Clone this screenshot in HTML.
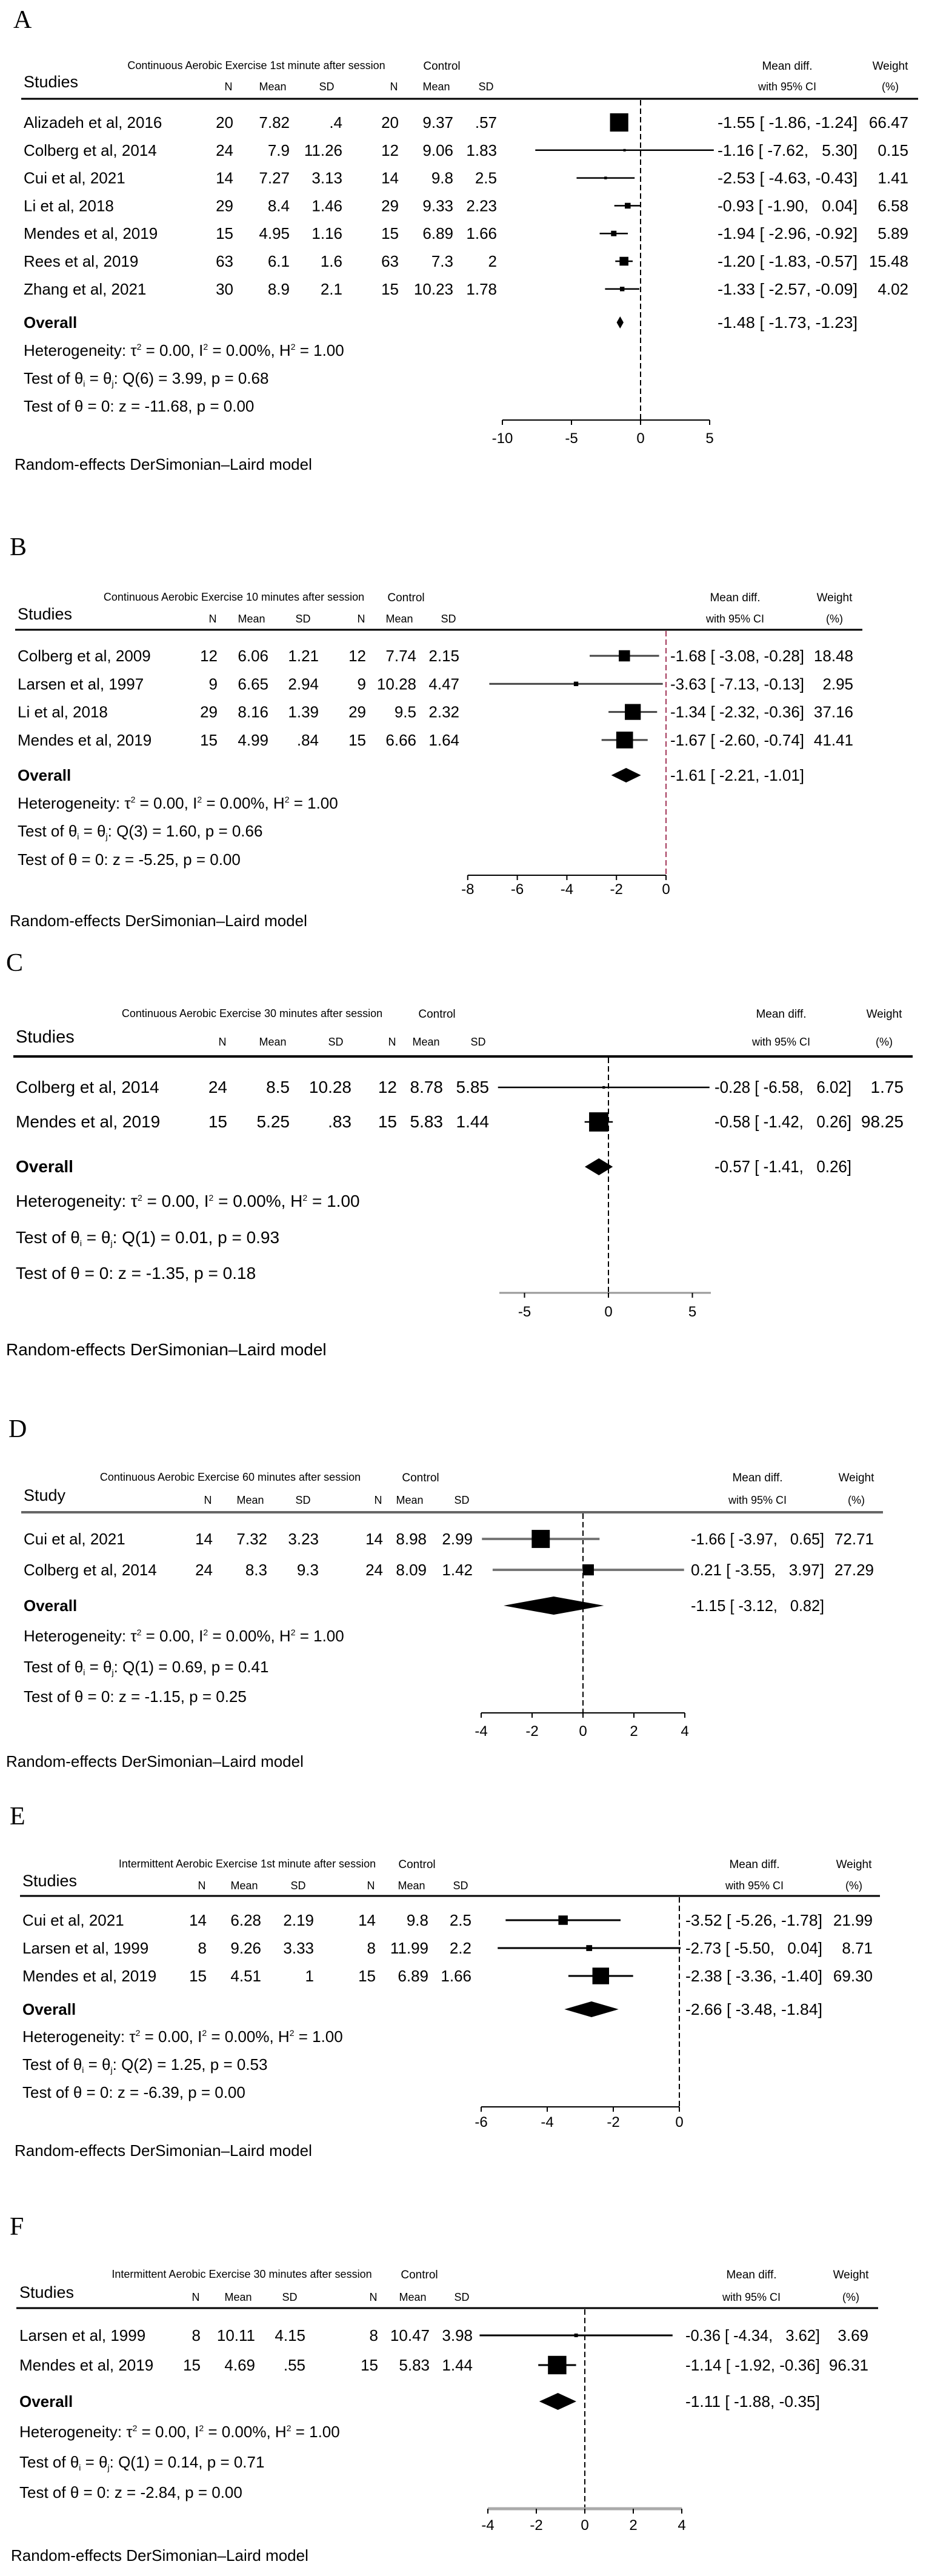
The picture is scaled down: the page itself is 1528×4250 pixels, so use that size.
<!DOCTYPE html>
<html><head><meta charset="utf-8"><title>Forest plots</title>
<style>
html,body{margin:0;padding:0;background:#fff;}
svg{display:block;font-family:"Liberation Sans",Arial,sans-serif;}
</style></head>
<body>
<svg id="fig" xmlns="http://www.w3.org/2000/svg" width="1528" height="4250" viewBox="0 0 1528 4250"></svg>
<script>
// ---------- Panel A data ----------
const studiesA = ["Alizadeh et al, 2016","Colberg et al, 2014","Cui et al, 2021","Li et al, 2018","Mendes et al, 2019","Rees et al, 2019","Zhang et al, 2021"];
const nTA = ["20","24","14","29","15","63","30"];
const meanTA = ["7.82","7.9","7.27","8.4","4.95","6.1","8.9"];
const sdTA = [".4","11.26","3.13","1.46","1.16","1.6","2.1"];
const nCA = ["20","12","14","29","15","63","15"];
const meanCA = ["9.37","9.06","9.8","9.33","6.89","7.3","10.23"];
const sdCA = [".57","1.83","2.5","2.23","1.66","2","1.78"];
const mdA = [-1.55,-1.16,-2.53,-0.93,-1.94,-1.20,-1.33];
const loA = [-1.86,-7.62,-4.63,-1.90,-2.96,-1.83,-2.57];
const hiA = [-1.24,5.30,-0.43,0.04,-0.92,-0.57,-0.09];
const wtA = [66.47,0.15,1.41,6.58,5.89,15.48,4.02];
const overallA = [-1.48,-1.73,-1.23];
const ticksA = [-10,-5,0,5];
const statsA = ["0.00","0.00%","1.00","6","3.99","0.68","-11.68","0.00"];

// ---------- Panel B data ----------
const studiesB = ["Colberg et al, 2009","Larsen et al, 1997","Li et al, 2018","Mendes et al, 2019"];
const nTB = ["12","9","29","15"];
const meanTB = ["6.06","6.65","8.16","4.99"];
const sdTB = ["1.21","2.94","1.39",".84"];
const nCB = ["12","9","29","15"];
const meanCB = ["7.74","10.28","9.5","6.66"];
const sdCB = ["2.15","4.47","2.32","1.64"];
const mdB = [-1.68,-3.63,-1.34,-1.67];
const loB = [-3.08,-7.13,-2.32,-2.60];
const hiB = [-0.28,-0.13,-0.36,-0.74];
const wtB = [18.48,2.95,37.16,41.41];
const overallB = [-1.61,-2.21,-1.01];
const ticksB = [-8,-6,-4,-2,0];
const statsB = ["0.00","0.00%","1.00","3","1.60","0.66","-5.25","0.00"];

// ---------- Panel C data ----------
const studiesC = ["Colberg et al, 2014","Mendes et al, 2019"];
const nTC = ["24","15"];
const meanTC = ["8.5","5.25"];
const sdTC = ["10.28",".83"];
const nCC = ["12","15"];
const meanCC = ["8.78","5.83"];
const sdCC = ["5.85","1.44"];
const mdC = [-0.28,-0.58];
const loC = [-6.58,-1.42];
const hiC = [6.02,0.26];
const wtC = [1.75,98.25];
const overallC = [-0.57,-1.41,0.26];
const ticksC = [-5,0,5];
const statsC = ["0.00","0.00%","1.00","1","0.01","0.93","-1.35","0.18"];

// ---------- Panel D data ----------
const studiesD = ["Cui et al, 2021","Colberg et al, 2014"];
const nTD = ["14","24"];
const meanTD = ["7.32","8.3"];
const sdTD = ["3.23","9.3"];
const nCD = ["14","24"];
const meanCD = ["8.98","8.09"];
const sdCD = ["2.99","1.42"];
const mdD = [-1.66,0.21];
const loD = [-3.97,-3.55];
const hiD = [0.65,3.97];
const wtD = [72.71,27.29];
const overallD = [-1.15,-3.12,0.82];
const ticksD = [-4,-2,0,2,4];
const statsD = ["0.00","0.00%","1.00","1","0.69","0.41","-1.15","0.25"];

// ---------- Panel E data ----------
const studiesE = ["Cui et al, 2021","Larsen et al, 1999","Mendes et al, 2019"];
const nTE = ["14","8","15"];
const meanTE = ["6.28","9.26","4.51"];
const sdTE = ["2.19","3.33","1"];
const nCE = ["14","8","15"];
const meanCE = ["9.8","11.99","6.89"];
const sdCE = ["2.5","2.2","1.66"];
const mdE = [-3.52,-2.73,-2.38];
const loE = [-5.26,-5.50,-3.36];
const hiE = [-1.78,0.04,-1.40];
const wtE = [21.99,8.71,69.30];
const overallE = [-2.66,-3.48,-1.84];
const ticksE = [-6,-4,-2,0];
const statsE = ["0.00","0.00%","1.00","2","1.25","0.53","-6.39","0.00"];

// ---------- Panel F data ----------
const studiesF = ["Larsen et al, 1999","Mendes et al, 2019"];
const nTF = ["8","15"];
const meanTF = ["10.11","4.69"];
const sdTF = ["4.15",".55"];
const nCF = ["8","15"];
const meanCF = ["10.47","5.83"];
const sdCF = ["3.98","1.44"];
const mdF = [-0.36,-1.14];
const loF = [-4.34,-1.92];
const hiF = [3.62,-0.36];
const wtF = [3.69,96.31];
const overallF = [-1.11,-1.88,-0.35];
const ticksF = [-4,-2,0,2,4];
const statsF = ["0.00","0.00%","1.00","1","0.14","0.71","-2.84","0.00"];

const NS = "http://www.w3.org/2000/svg";
const svg = document.getElementById("fig");

function mk(tag, attrs, parent) {
  const el = document.createElementNS(NS, tag);
  for (const k in attrs) el.setAttribute(k, attrs[k]);
  (parent || svg).appendChild(el);
  return el;
}
function txt(parent, x, y, s, size, anchor, name, extra) {
  const t = mk("text", Object.assign({x: x, y: y, "font-size": size, "text-anchor": anchor || "start", fill: "#000"}, extra || {}), parent);
  t.textContent = s;
  
  
  return t;
}
function fmt(v) { return (v >= 0 ? "  " : "") + v.toFixed(2); }
function ciStr(e, l, h) { return e.toFixed(2) + " [ " + fmt(l).replace(/^ /, "") + ", " + fmt(h) + "]"; }

function drawPanel(L, D) {
  const g = mk("g", {});
  
  
  const fs = L.fs;
  const xs = v => L.zero + v * L.ppu;
  const ciOpts = {"style": "white-space:pre", "textLength": L.ciLen, "lengthAdjust": "spacingAndGlyphs"};
  txt(g, L.letterX, L.letterY, L.letter, 42, "start", "panel-label", {"font-family": "Liberation Serif, serif"});
  txt(g, L.subX, L.h1 + 6, L.sub, 18, "middle", "treatment-group-header");
  txt(g, L.ctrlX, L.h1 + 7, "Control", 19, "middle", "control-group-header");
  txt(g, L.mdX, L.h1 + 7, "Mean diff.", 19, "middle", "mean-diff-header");
  txt(g, L.mdX, L.h2 + 7, "with 95% CI", 18, "middle", "ci-header");
  txt(g, L.wX, L.h1 + 7, "Weight", 19, "middle", "weight-header");
  txt(g, L.wX, L.h2 + 7, "(%)", 18, "middle", "weight-unit-header");
  txt(g, L.x0, L.h2 + 2, L.studyHdr, fs + 1, "start", "studies-header");
  const hdr = ["N","Mean","SD","N","Mean","SD"];
  const off = [8, 28, 26, 8, 28, 18];
  hdr.forEach((h, i) => txt(g, L.cols[i] - off[i], L.h2 + 7, h, 18, "middle", "column-header-" + h.toLowerCase()));
  const rule = mk("line", {x1: L.ruleX1, x2: L.ruleX2, y1: L.rule, y2: L.rule, stroke: L.ruleColor, "stroke-width": L.ruleW}, g);
  
  
  const zl = mk("line", {x1: xs(0), x2: xs(0), y1: L.rule + 2, y2: L.axisY, stroke: L.zeroColor, "stroke-width": 2, "stroke-dasharray": "9,5"}, g);
  
  
  const cols = [D.nT, D.meanT, D.sdT, D.nC, D.meanC, D.sdC];
  D.studies.forEach((s, i) => {
    const y = L.row0 + i * L.step;
    txt(g, L.x0, y + 9, s, fs, "start", "study-name");
    cols.forEach((c, j) => txt(g, L.cols[j], y + 9, c[i], fs, "end", "table-value"));
    const ci = mk("line", {x1: xs(D.lo[i]), x2: xs(D.hi[i]), y1: y, y2: y, stroke: L.ciColor, "stroke-width": L.ciW}, g);
    
    
    const side = Math.max(4, L.k * Math.sqrt(D.wt[i]));
    const sq = mk("rect", {x: xs(D.md[i]) - side / 2, y: y - side / 2, width: side, height: side, fill: "#000"}, g);
    
    
    txt(g, L.ciX, y + 9, ciStr(D.md[i], D.lo[i], D.hi[i]), fs, "start", "effect-ci-text", ciOpts);
    txt(g, L.wRight, y + 9, D.wt[i].toFixed(2), fs, "end", "weight-value");
  });
  const oy = L.overall;
  txt(g, L.x0, oy + 9, "Overall", fs, "start", "overall-label", {"font-weight": "bold"});
  const dh = L.dh / 2;
  const dia = mk("polygon", {points: [xs(D.ov[1]) + "," + oy, xs(D.ov[0]) + "," + (oy - dh), xs(D.ov[2]) + "," + oy, xs(D.ov[0]) + "," + (oy + dh)].join(" "), fill: "#000"}, g);
  
  
  txt(g, L.ciX, oy + 9, ciStr(D.ov[0], D.ov[1], D.ov[2]), fs, "start", "overall-ci-text", ciOpts);
  const st = D.stats;
  const het = txt(g, L.x0, L.het + 9, "", fs, "start", "heterogeneity-stats");
  het.innerHTML = 'Heterogeneity: τ<tspan dy="-10" font-size="14">2</tspan><tspan dy="10"> = ' + st[0] + ', I</tspan><tspan dy="-10" font-size="14">2</tspan><tspan dy="10"> = ' + st[1] + ', H</tspan><tspan dy="-10" font-size="14">2</tspan><tspan dy="10"> = ' + st[2] + '</tspan>';
  const t1 = txt(g, L.x0, L.t1 + 9, "", fs, "start", "homogeneity-test");
  t1.innerHTML = 'Test of θ<tspan dy="5" font-size="14">i</tspan><tspan dy="-5"> = θ</tspan><tspan dy="5" font-size="14">j</tspan><tspan dy="-5">: Q(' + st[3] + ') = ' + st[4] + ', p = ' + st[5] + '</tspan>';
  txt(g, L.x0, L.t2 + 9, "Test of θ = 0: z = " + st[6] + ", p = " + st[7], fs, "start", "overall-effect-test");
  const ax = mk("line", {x1: xs(L.axMin), x2: xs(L.axMax), y1: L.axisY, y2: L.axisY, stroke: L.axisColor, "stroke-width": L.axisW}, g);
  
  
  D.ticks.forEach(t => {
    const tk = mk("line", {x1: xs(t), x2: xs(t), y1: L.axisY, y2: L.axisY + 8, stroke: "#000", "stroke-width": 2}, g);
    
    
    txt(g, xs(t), L.tickY + 9, String(t), 24, "middle", "x-tick-label");
  });
  txt(g, L.reX, L.reY + 9, "Random-effects DerSimonian–Laird model", fs, "start", "model-note");
}

const base = {fs: 26, ruleColor: "#000", ruleW: 3, zeroColor: "#000", ciColor: "#000", ciW: 2.5, axisColor: "#000", axisW: 2, dh: 24};

drawPanel(Object.assign({}, base, {letter: "A", letterX: 22, letterY: 46, sub: "Continuous Aerobic Exercise 1st minute after session", subX: 423, ctrlX: 729, mdX: 1299, wX: 1469, studyHdr: "Studies",
  x0: 39, cols: [385,478,565,658,748,820], h1: 108, h2: 142, rule: 163, ruleX1: 35, ruleX2: 1515,
  row0: 202, step: 45.8, overall: 532, het: 578, t1: 624, t2: 670, axisY: 693, tickY: 722, reX: 24, reY: 766,
  zero: 1057, ppu: 22.8, axMin: -10, axMax: 5, ciX: 1184, ciLen: 231, wRight: 1499, k: 3.7, dh: 20}),
  {studies: studiesA, nT: nTA, meanT: meanTA, sdT: sdTA, nC: nCA, meanC: meanCA, sdC: sdCA, md: mdA, lo: loA, hi: hiA, wt: wtA, ov: overallA, ticks: ticksA, stats: statsA});

drawPanel(Object.assign({}, base, {letter: "B", letterX: 16, letterY: 916, sub: "Continuous Aerobic Exercise 10 minutes after session", subX: 386, ctrlX: 670, mdX: 1213, wX: 1377, studyHdr: "Studies",
  x0: 29, cols: [359,443,526,604,687,758], h1: 985, h2: 1020, rule: 1039, ruleX1: 25, ruleX2: 1423,
  row0: 1082, step: 46.3, overall: 1279, het: 1325, t1: 1371, t2: 1418, axisY: 1444, tickY: 1466, reX: 16, reY: 1519,
  zero: 1099, ppu: 40.9, axMin: -8, axMax: 0, ciX: 1106, ciLen: 221, wRight: 1408, k: 4.3, zeroColor: "#a3375a", ciColor: "#444", ciW: 3}),
  {studies: studiesB, nT: nTB, meanT: meanTB, sdT: sdTB, nC: nCB, meanC: meanCB, sdC: sdCB, md: mdB, lo: loB, hi: hiB, wt: wtB, ov: overallB, ticks: ticksB, stats: statsB});

drawPanel(Object.assign({}, base, {letter: "C", letterX: 10, letterY: 1602, sub: "Continuous Aerobic Exercise 30 minutes after session", subX: 416, ctrlX: 721, mdX: 1289, wX: 1459, studyHdr: "Studies",
  x0: 26, cols: [375,478,580,655,731,807], h1: 1672, h2: 1718, rule: 1743, ruleX1: 22, ruleX2: 1506, ruleW: 4,
  row0: 1794, step: 57, overall: 1925, het: 1982, t1: 2042, t2: 2101, axisY: 2133, tickY: 2163, reX: 10, reY: 2227,
  zero: 1004, ppu: 27.7, axMin: -6.5, axMax: 6.1, ciX: 1179, ciLen: 226, wRight: 1491, k: 3.2, fs: 28, dh: 28, axisColor: "#999", axisW: 3}),
  {studies: studiesC, nT: nTC, meanT: meanTC, sdT: sdTC, nC: nCC, meanC: meanCC, sdC: sdCC, md: mdC, lo: loC, hi: hiC, wt: wtC, ov: overallC, ticks: ticksC, stats: statsC});

drawPanel(Object.assign({}, base, {letter: "D", letterX: 14, letterY: 2371, sub: "Continuous Aerobic Exercise 60 minutes after session", subX: 380, ctrlX: 694, mdX: 1250, wX: 1413, studyHdr: "Study",
  x0: 39, cols: [351,441,526,632,704,780], h1: 2437, h2: 2474, rule: 2495, ruleX1: 35, ruleX2: 1457, ruleColor: "#666", ruleW: 4,
  row0: 2539, step: 51, overall: 2649, het: 2699, t1: 2750, t2: 2799, axisY: 2826, tickY: 2855, reX: 10, reY: 2906,
  zero: 962, ppu: 42, axMin: -4, axMax: 4, ciX: 1140, ciLen: 220, wRight: 1442, k: 3.5, ciColor: "#777", ciW: 4, dh: 30}),
  {studies: studiesD, nT: nTD, meanT: meanTD, sdT: sdTD, nC: nCD, meanC: meanCD, sdC: sdCD, md: mdD, lo: loD, hi: hiD, wt: wtD, ov: overallD, ticks: ticksD, stats: statsD});

drawPanel(Object.assign({}, base, {letter: "E", letterX: 16, letterY: 3010, sub: "Intermittent Aerobic Exercise 1st minute after session", subX: 408, ctrlX: 688, mdX: 1245, wX: 1409, studyHdr: "Studies",
  x0: 37, cols: [341,431,518,620,707,778], h1: 3075, h2: 3110, rule: 3128, ruleX1: 33, ruleX2: 1452,
  row0: 3168, step: 46, overall: 3315, het: 3360, t1: 3406, t2: 3452, axisY: 3476, tickY: 3500, reX: 24, reY: 3548,
  zero: 1121, ppu: 54.5, axMin: -6, axMax: 0, ciX: 1131, ciLen: 226, wRight: 1440, k: 3.3, ciW: 3, dh: 26}),
  {studies: studiesE, nT: nTE, meanT: meanTE, sdT: sdTE, nC: nCE, meanC: meanCE, sdC: sdCE, md: mdE, lo: loE, hi: hiE, wt: wtE, ov: overallE, ticks: ticksE, stats: statsE});

drawPanel(Object.assign({}, base, {letter: "F", letterX: 16, letterY: 3687, sub: "Intermittent Aerobic Exercise 30 minutes after session", subX: 399, ctrlX: 692, mdX: 1240, wX: 1404, studyHdr: "Studies",
  x0: 32, cols: [331,421,504,624,709,780], h1: 3752, h2: 3789, rule: 3808, ruleX1: 27, ruleX2: 1449,
  row0: 3853, step: 49, overall: 3962, het: 4012, t1: 4062, t2: 4112, axisY: 4139, tickY: 4165, reX: 18, reY: 4216,
  zero: 965, ppu: 40, axMin: -4, axMax: 4, ciX: 1131, ciLen: 222, wRight: 1433, k: 3.1, ciW: 3, axisColor: "#aaa", axisW: 5, dh: 28}),
  {studies: studiesF, nT: nTF, meanT: meanTF, sdT: sdTF, nC: nCF, meanC: meanCF, sdC: sdCF, md: mdF, lo: loF, hi: hiF, wt: wtF, ov: overallF, ticks: ticksF, stats: statsF});
</script>
</body></html>
